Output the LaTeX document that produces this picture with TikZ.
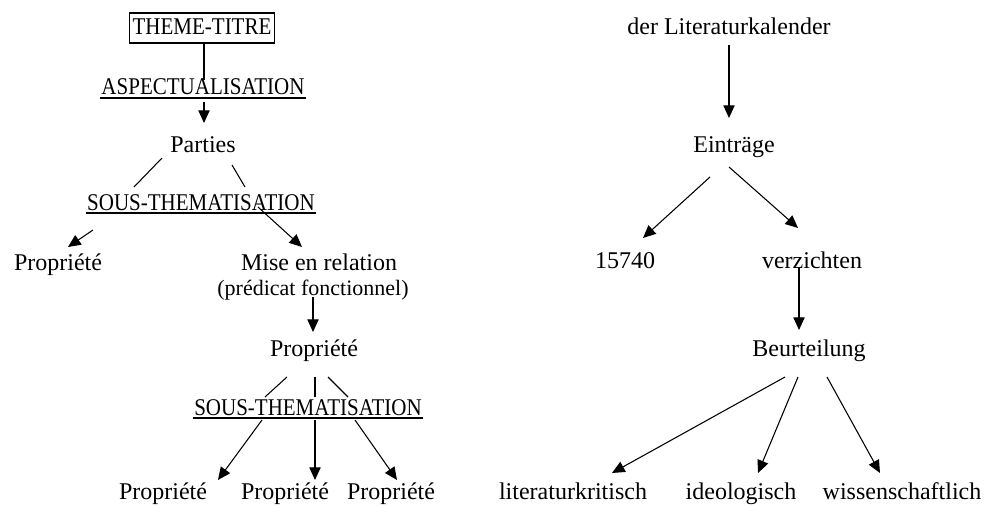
\documentclass[tikz,border=0pt]{standalone}
\usepackage{fontspec}
\usepackage{graphicx}
\setmainfont{Liberation Serif}
\usetikzlibrary{arrows.meta,calc}
\newcommand{\narrowcaps}[1]{\scalebox{0.875}[1]{#1}}
\tikzset{
  lbl/.style={inner sep=0pt, anchor=base, font=\fontsize{18}{20}\selectfont},
  caps/.style={inner sep=0pt, anchor=base, font=\fontsize{18}{20}\selectfont},
  small/.style={inner sep=0pt, anchor=base, font=\fontsize{16.5}{18}\selectfont},
  conn/.style={line width=0.8pt, black},
  arr/.style={conn, -{Triangle[length=9.5pt,width=8.5pt]}},
  uline/.style={line width=0.8pt, black}
}
\begin{document}
\begin{tikzpicture}[x=0.75pt,y=-0.75pt]
\useasboundingbox (0,0) rectangle (989,506);
% ---------- left tree ----------
\node[caps] (tt) at (202,35) {\narrowcaps{THEME-TITRE}};
\draw[conn] ($(tt.base west)+(-3,-22)$) rectangle ($(tt.base east)+(3,8)$);
\node[caps] (asp) at (203,95) {\narrowcaps{ASPECTUALISATION}};
\draw[uline] ($(asp.base west)+(-1,3)$) -- ($(asp.base east)+(1,3)$);
\node[lbl] (parties) at (203,153) {Parties};
\node[caps] (st1) at (201,210) {\narrowcaps{SOUS-THEMATISATION}};
\draw[uline] ($(st1.base west)+(-1,3)$) -- ($(st1.base east)+(1,3)$);
\node[lbl] (propL) at (58,270) {Propriété};
\node[lbl] (mise) at (319,270) {Mise en relation};
\node[small] (pred) at (313,295) {(prédicat fonctionnel)};
\node[lbl] (propM) at (314,356) {Propriété};
\node[caps] (st2) at (308,415) {\narrowcaps{SOUS-THEMATISATION}};
\draw[uline] ($(st2.base west)+(-1,3)$) -- ($(st2.base east)+(1,3)$);
\node[lbl] (pb1) at (163,499) {Propriété};
\node[lbl] (pb2) at (285,499) {Propriété};
\node[lbl] (pb3) at (391,499) {Propriété};

\draw[conn] ($(tt.base)+(2,8)$) -- ($(asp.base)+(1,-15)$);
\draw[arr] ($(asp.base)+(1,7)$) -- ($(parties.base)+(1,-30)$);
\draw[conn] ($(parties.base)+(-41,5)$) -- ($(st1.base)+(-67,-23)$);
\draw[conn] ($(parties.base)+(29,12)$) -- ($(st1.base)+(44,-23)$);
\draw[arr] ($(st1.base)+(-108,20)$) -- ($(propL.base)+(10,-23)$);
\draw[arr] ($(st1.base)+(57,-3)$) -- ($(mise.base)+(-17,-23)$);
\draw[arr] ($(pred.base)+(0,2)$) -- ($(propM.base)+(-1,-24)$);
\draw[conn] ($(propM.base)+(-27,21)$) -- ($(st2.base)+(-43,-18)$);
\draw[conn] ($(propM.base)+(1,21)$) -- ($(st2.base)+(7,-18)$);
\draw[conn] ($(propM.base)+(14,21)$) -- ($(st2.base)+(40,-18)$);
\draw[arr] ($(st2.base)+(-46,5)$) -- ($(pb1.base)+(55,-19)$);
\draw[arr] ($(st2.base)+(7,5)$) -- ($(pb2.base)+(30,-19)$);
\draw[arr] ($(st2.base)+(47,5)$) -- ($(pb3.base)+(6,-19)$);

% ---------- right tree ----------
\node[lbl] (lit) at (729,35) {der Literaturkalender};
\node[lbl] (ein) at (734,153) {Einträge};
\node[lbl] (num) at (625,268) {15740};
\node[lbl] (verz) at (812,268) {verzichten};
\node[lbl] (beur) at (809,356) {Beurteilung};
\node[lbl] (lk) at (573,499) {literaturkritisch};
\node[lbl] (ideo) at (741,499) {ideologisch};
\node[lbl] (wiss) at (902,499) {wissenschaftlich};

\draw[arr] ($(lit.base)+(0,10)$) -- ($(ein.base)+(-5,-35)$);
\draw[arr] ($(ein.base)+(-24,24)$) -- ($(num.base)+(18,-30)$);
\draw[arr] ($(ein.base)+(-5,14)$) -- ($(verz.base)+(-14,-40)$);
\draw[arr] ($(verz.base)+(-13,0)$) -- ($(beur.base)+(-10,-26)$);
\draw[arr] ($(beur.base)+(-24,21)$) -- ($(lk.base)+(39,-26)$);
\draw[arr] ($(beur.base)+(-11,21)$) -- ($(ideo.base)+(17,-26)$);
\draw[arr] ($(beur.base)+(18,21)$) -- ($(wiss.base)+(-22,-26)$);
\end{tikzpicture}
\end{document}
